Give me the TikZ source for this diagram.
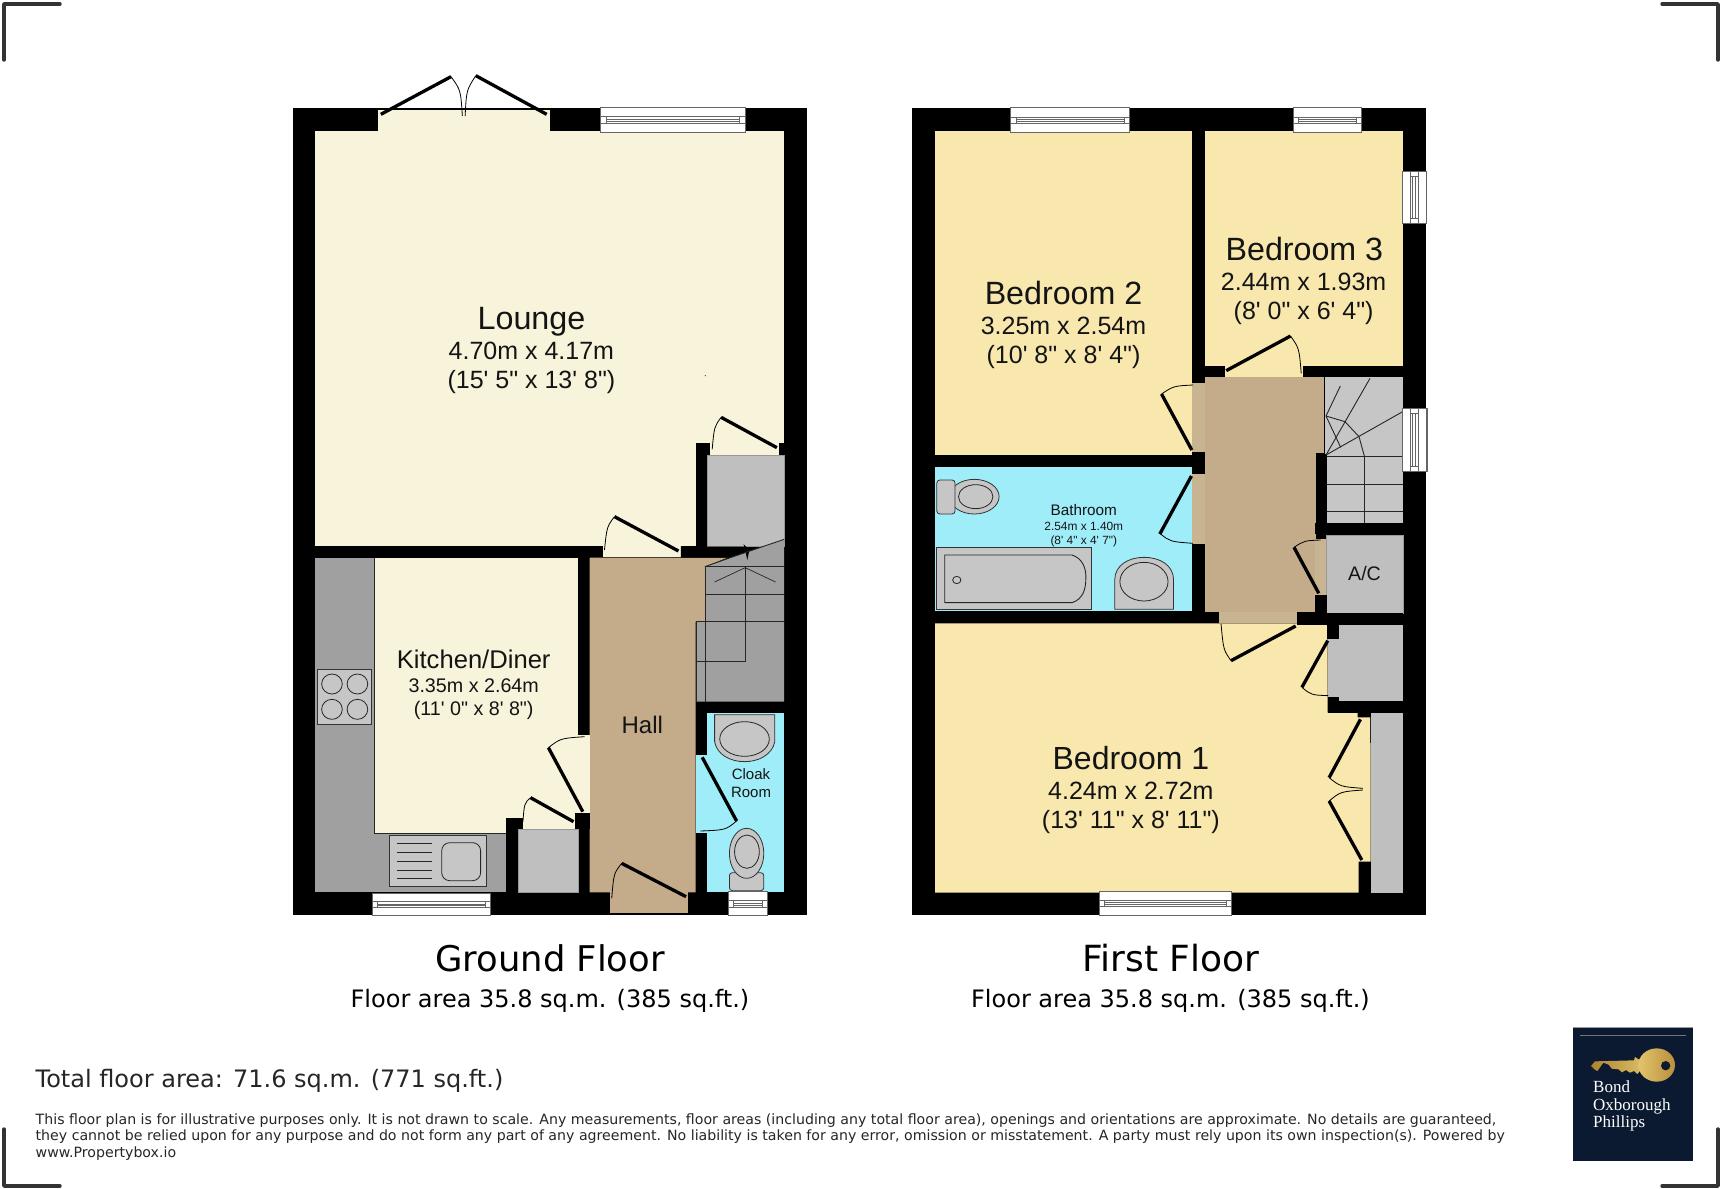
\documentclass[tikz,border=0pt]{standalone}
\usepackage{fontspec}
\newfontfamily\roomfont{Liberation Sans}
\newfontfamily\capfont{DejaVu Sans}
\newfontfamily\logofont{Liberation Serif}
\definecolor{creamfloor}{HTML}{F8F4DC}
\definecolor{bedfloor}{HTML}{F8E8AE}
\definecolor{cyanfloor}{HTML}{9FEDF9}
\definecolor{tanfloor}{HTML}{C4AC8A}
\definecolor{tanlight}{HTML}{C9B491}
\definecolor{greycup}{HTML}{BFBFBF}
\definecolor{greydark}{HTML}{A0A0A0}
\definecolor{greyapp}{HTML}{C6C6C6}
\definecolor{navy}{HTML}{0B1A30}
\definecolor{golddark}{HTML}{AC8332}
\definecolor{goldlight}{HTML}{E3C46C}
\definecolor{goldmid}{HTML}{B88F3C}
\newcommand{\fs}[1]{\fontsize{#1}{#1}\selectfont}
\newcommand{\winH}[4]{%
  \pgfmathsetmacro\wya{#2+.38*(#4-#2)}\pgfmathsetmacro\wyb{#2+.65*(#4-#2)}%
  \pgfmathsetmacro\wyc{#2+.49*(#4-#2)}\pgfmathsetmacro\wyd{#2+.56*(#4-#2)}%
  \pgfmathsetmacro\wxa{#1+15}\pgfmathsetmacro\wxb{#3-15}%
  \draw[winframe] (#1,#2) rectangle (#3,#4);
  \draw[winline] (#1,\wya) -- (#3,\wya) (#1,\wyb) -- (#3,\wyb);
  \draw[winline] (\wxa,\wya) -- (\wxa,\wyb) (\wxb,\wya) -- (\wxb,\wyb) (\wxa,\wyc) -- (\wxb,\wyc) (\wxa,\wyd) -- (\wxb,\wyd);
}
\newcommand{\winV}[4]{%
  \pgfmathsetmacro\wxa{#1+.32*(#3-#1)}\pgfmathsetmacro\wxb{#1+.65*(#3-#1)}%
  \pgfmathsetmacro\wxc{#1+.43*(#3-#1)}\pgfmathsetmacro\wxd{#1+.53*(#3-#1)}%
  \pgfmathsetmacro\wya{#2+15}\pgfmathsetmacro\wyb{#4-15}%
  \draw[winframe] (#1,#2) rectangle (#3,#4);
  \draw[winline] (\wxa,#2) -- (\wxa,#4) (\wxb,#2) -- (\wxb,#4);
  \draw[winline] (\wxa,\wya) -- (\wxb,\wya) (\wxa,\wyb) -- (\wxb,\wyb) (\wxc,\wya) -- (\wxc,\wyb) (\wxd,\wya) -- (\wxd,\wyb);
}
\tikzset{
  gA/.style={x=0.3441pt,y=-0.33333pt,shift={(280pt,-60pt)}},
  gB/.style={x=0.3441pt,y=-0.33333pt,shift={(280pt,-520pt)}},
  fC/.style={x=0.3441pt,y=-0.33333pt,shift={(900pt,-90pt)}},
  fD/.style={x=0.3441pt,y=-0.33333pt,shift={(900pt,-500pt)}},
  zE/.style={x=0.33333pt,y=-0.33333pt,shift={(1240pt,-360pt)}},
  zF/.style={x=0.33333pt,y=-0.33333pt,shift={(1540pt,-1010pt)}},
  leaf/.style={line width=3.3pt,black},
  swing/.style={line width=.8pt,black},
  winframe/.style={fill=white,draw=black!60,line width=.7pt},
  winline/.style={draw=black!60,line width=.6pt},
  stairline/.style={draw=black!85,line width=.9pt},
  applianceedge/.style={fill=greyapp,draw=black!80,line width=.8pt},
  cupb/.style={fill=greycup,draw=black!40,line width=.4pt},
  rt/.style={anchor=base,inner sep=0pt,font=\roomfont\fs{#1},text=black!92},
  ct/.style={anchor=base,inner sep=0pt,font=\capfont\fs{#1},text=black},
  nt/.style={anchor=base west,inner sep=0pt,font=\capfont\fs{#1},text=black!85},
  cornermark/.style={draw=black!80,line width=3.4pt,line cap=round,line join=round},
}
\begin{document}
\begin{tikzpicture}[x=1pt,y=-1pt]
\useasboundingbox (0,0) rectangle (1722,1189);
\fill[white] (0,0) rectangle (1722,1189);
% corners
\draw[cornermark] (4,60) -- (4,4) -- (60,4);
\draw[cornermark] (1662,4) -- (1718,4) -- (1718,60);
\draw[cornermark] (4,1129) -- (4,1186) -- (60,1186);
\draw[cornermark] (1662,1186) -- (1718,1186) -- (1718,1129);
% shells
\fill[black] (292.7,108.3) rectangle (806.8,915.3);
\fill[black] (912,108.3) rectangle (1426,915);

% ---------- GROUND FLOOR, upper part
\begin{scope}[gA]
  \fill[creamfloor] (103,213) rectangle (1465,1458);
  \fill[creamfloor] (285,150) rectangle (784,213);
  \fill[creamfloor] (938,1458) rectangle (1165,1491);
  \fill[black] (1208,1150) rectangle (1241,1470);
  \fill[black] (1208,1150) rectangle (1251,1185);
  \fill[black] (1449,1150) rectangle (1465,1185);
  \filldraw[cupb] (1241,1185) rectangle (1465,1458);
  \winH{932}{142}{1351}{216}
  \draw[leaf] (293,163) -- (497,50);
  \draw[leaf] (775,163) -- (569,47);
  \draw[swing] (497,50) .. controls (525,90) .. (530,168);
  \draw[swing] (569,47) .. controls (542,90) .. (538,168);
  \draw[leaf] (1444,1163) -- (1282,1072);
  \draw[swing] (1282,1072) .. controls (1262,1100) .. (1256,1168);
  \draw[leaf] (1158,1473) -- (972,1370);
  \draw[swing] (972,1370) .. controls (950,1400) .. (943,1470);
  \fill[black!70] (1236,947) circle (2);
\end{scope}

% ---------- GROUND FLOOR, lower part
\begin{scope}[gB]
  \fill[tanfloor] (900,113) -- (1300,113) -- (1235,140) -- (1235,305) -- (1208,305) -- (1208,1117) -- (900,1117) -- cycle;
  \fill[tanfloor] (958,1117) rectangle (1185,1180);
  % stairs
  \fill[greydark] (1235,140) -- (1465,58) -- (1465,545) -- (1210,545) -- (1210,305) -- (1235,305) -- cycle;
  \fill[black] (1165,80) -- (1350,80) -- (1350,99) -- (1300,113) -- (1165,113) -- cycle;
  \fill[black] (1347,72) -- (1364,90) -- (1358,120) -- (1352,90) -- cycle;
  \draw[stairline] (1235,140) -- (1300,116) -- (1465,58);
  \draw[stairline] (1235,140) -- (1465,140) (1235,222) -- (1465,222) (1210,305) -- (1465,305);
  \draw[stairline] (1352,140) -- (1352,425) -- (1210,425);
  \draw[stairline] (1235,140) -- (1235,545) (1210,305) -- (1210,545);
  \draw[stairline,line width=.7pt] (1263,186) -- (1352,143) -- (1440,186);
  \fill[black] (1208,545) rectangle (1480,578);
  % kitchen
  \fill[greydark] (103,113) rectangle (657,1117);
  \fill[creamfloor] (275,113) rectangle (866,940);
  \fill[creamfloor] (866,645) rectangle (901,880);
  \draw[black!85,line width=.7pt] (275,113) -- (275,940) -- (657,940);
  \fill[black] (657,895) rectangle (705,928);
  \fill[black] (657,895) rectangle (691,1117);
  \fill[black] (857,880) rectangle (901,928);
  \filldraw[cupb] (691,928) rectangle (866,1117);
  % hob
  \filldraw[applianceedge] (108,448) rectangle (267,612);
  \foreach \hx/\hy in {151/492,225/492,151/568,225/568}
    \draw[black!85,line width=.8pt] (\hx,\hy) circle [x radius=30,y radius=30];
  % sink
  \filldraw[applianceedge] (319,947) rectangle (600,1098);
  \foreach \sy in {970,997,1023,1050,1076}
    \draw[black!85,line width=.7pt] (340,\sy) -- (442,\sy);
  \draw[black!85,line width=.8pt,rounded corners=8pt] (470,968) rectangle (583,1082);
  % doors
  \draw[leaf] (880,875) -- (780,683);
  \draw[swing] (780,683) .. controls (815,655) .. (885,650);
  \draw[leaf] (853,905) -- (728,833);
  \draw[swing] (728,833) .. controls (710,850) .. (706,905);
  \draw[leaf] (993,1030) -- (1180,1130);
  \draw[swing] (993,1030) .. controls (970,1060) .. (964,1135);
  % cloak
  \fill[cyanfloor] (1241,578) rectangle (1465,1117);
  \fill[cyanfloor] (1208,705) rectangle (1241,938);
  \filldraw[applianceedge] (1263,584) -- (1438,584) -- (1438,665) .. controls (1430,705) and (1390,725) .. (1350,725) .. controls (1310,725) and (1270,705) .. (1263,665) -- cycle;
  \draw[black!85,line width=.8pt] (1350,657) circle [x radius=72,y radius=52];
  \filldraw[applianceedge,rounded corners=3pt] (1306,1058) rectangle (1406,1112);
  \filldraw[applianceedge] (1356,1000) circle [x radius=50,y radius=75];
  \draw[black!85,line width=.8pt] (1357,995) circle [x radius=36,y radius=50];
  \draw[leaf] (1227,712) -- (1327,903);
  \draw[swing] (1327,903) .. controls (1295,930) .. (1222,933);
  % windows
  \winH{267}{1120}{611}{1186}
  \winH{1302}{1115}{1416}{1186}
\end{scope}

% ---------- FIRST FLOOR, upper part
\begin{scope}[fC]
  \fill[bedfloor] (102,123) rectangle (850,1094);
  \fill[bedfloor] (885,123) rectangle (1463,828);
  \fill[bedfloor] (945,828) rectangle (1170,862);
  \fill[tanfloor] (885,862) rectangle (1233,1090);
  \fill[tanfloor] (885,1090) rectangle (1208,1565);
  \fill[tanlight] (850,880) rectangle (885,1085);
  \fill[tanlight] (850,1152) rectangle (885,1362);
  \fill[cyanfloor] (102,1130) rectangle (850,1563);
  \winH{322}{52}{667}{127}
  \winH{1143}{52}{1342}{127}
  \winV{1460}{243}{1530}{400}
  \draw[leaf] (948,842) -- (1135,738);
  \draw[swing] (1135,738) .. controls (1160,775) .. (1166,850);
  \draw[leaf] (848,1080) -- (760,912);
  \draw[swing] (760,912) .. controls (795,888) .. (852,885);
  % bathroom toilet
  \filldraw[applianceedge] (216,1220) circle [x radius=72,y radius=52];
  \filldraw[applianceedge,rounded corners=3pt] (107,1170) rectangle (160,1272);
  \draw[black!85,line width=.8pt] (220,1220) circle [x radius=50,y radius=36];
  \draw[leaf] (847,1158) -- (755,1332);
\end{scope}

% ---------- FIRST FLOOR, stairs
\begin{scope}[zE]
  \fill[greyapp] (256,52) rectangle (490,490);
  \fill[black] (228,282) rectangle (260,535);
  \fill[black] (225,490) rectangle (492,523);
  \draw[stairline] (258,285) -- (390,55);
  \draw[stairline] (258,285) -- (488,155);
  \draw[stairline] (258,168) -- (301,78);
  \draw[stairline] (258,168) -- (302,262);
  \draw[stairline] (258,168) -- (315,185) -- (357,230) -- (373,288);
  \draw[stairline] (260,288) -- (490,288) (260,372) -- (490,372) (260,455) -- (490,455);
  \draw[stairline] (374,288) -- (374,490);
  \winV{488}{145}{562}{333}
\end{scope}

% ---------- FIRST FLOOR, lower part
\begin{scope}[fD]
  \fill[tanlight] (928,335) rectangle (1155,370);
  \fill[tanlight] (1205,118) rectangle (1238,285);
  \fill[black] (850,133) rectangle (885,335);
  % bath
  \filldraw[applianceedge] (107,142) rectangle (556,328);
  \draw[black!85,line width=.9pt] (130,165) -- (500,165) .. controls (530,175) and (542,205) .. (540,237) .. controls (540,270) and (530,298) .. (500,308) -- (130,308) -- cycle;
  \draw[black!85,line width=.8pt] (165,240) circle [x radius=12,y radius=11];
  % basin
  \filldraw[applianceedge] (624,328) -- (624,240) .. controls (624,195) and (665,172) .. (709,172) .. controls (755,172) and (795,195) .. (795,240) -- (795,328) -- cycle;
  \draw[black!85,line width=.8pt] (709,245) circle [x radius=70,y radius=58];
  \draw[swing] (755,100) .. controls (785,125) .. (852,130);
  % A/C
  \filldraw[cupb] (1238,105) rectangle (1463,340);
  \fill[black] (1205,285) rectangle (1240,345);
  \draw[leaf] (1217,280) -- (1145,142);
  \draw[swing] (1145,142) .. controls (1175,122) .. (1222,120);
  % bedroom 1
  \fill[bedfloor] (102,370) -- (1243,370) -- (1243,638) -- (1330,638) -- (1330,652) -- (1368,652) -- (1368,1085) -- (1333,1085) -- (1333,1178) -- (102,1178) -- cycle;
  \fill[black] (1243,603) rectangle (1463,638);
  % cupboards
  \fill[greycup] (1243,375) rectangle (1463,603);
  \fill[black] (1240,375) rectangle (1275,417);
  \fill[black] (1243,592) rectangle (1275,603);
  \fill[black] (1155,340) rectangle (1463,375);
  \fill[greycup] (1368,638) rectangle (1463,1178);
  \draw[black!85,line width=.7pt] (1368,650) -- (1368,730);
  \draw[leaf] (1150,378) -- (962,482);
  \draw[swing] (962,482) .. controls (940,450) .. (933,372);
  \draw[leaf] (1243,422) -- (1168,562);
  \draw[swing] (1168,562) .. controls (1195,585) .. (1245,587);
  \draw[leaf] (1338,658) -- (1247,833);
  \draw[swing] (1247,833) .. controls (1280,860) .. (1345,865);
  \draw[leaf] (1342,1080) -- (1247,903);
  \draw[swing] (1247,903) .. controls (1280,875) .. (1345,870);
  \winH{580}{1173}{963}{1245}
\end{scope}
\begin{scope}[fC]
  \winV{1460}{955}{1530}{1143}
\end{scope}

% ---------- room labels
\node[rt=32.3] (loungeA) at (531.5,329.3) {Lounge};
\node[rt=25] (loungeB) at (531.4,359) {4.70m x 4.17m};
\node[rt=25] (loungeC) at (531.4,388.3) {(15' 5" x 13' 8")};
\node[rt=25.6] (kitA) at (473.7,668.2) {Kitchen/Diner};
\node[rt=19.7] (kitB) at (473.7,692) {3.35m x 2.64m};
\node[rt=19.7] (kitC) at (473.7,715) {(11' 0" x 8' 8")};
\node[rt=24] (hallA) at (642.3,733) {Hall};
\node[rt=15] (cloakA) at (751,779.3) {Cloak};
\node[rt=15] (cloakB) at (751,797.3) {Room};
\node[rt=32.2] (bedtwoA) at (1063.5,304.3) {Bedroom 2};
\node[rt=25] (bedtwoB) at (1063.5,334.6) {3.25m x 2.54m};
\node[rt=25] (bedtwoC) at (1063.5,363.3) {(10' 8" x 8' 4")};
\node[rt=32.2] (bedthrA) at (1304.4,260.3) {Bedroom 3};
\node[rt=25] (bedthrB) at (1303.6,290.4) {2.44m x 1.93m};
\node[rt=25] (bedthrC) at (1303.6,319.3) {(8' 0" x 6' 4")};
\node[rt=15.3] (bathA) at (1083.8,515) {Bathroom};
\node[rt=11.9] (bathB) at (1083.8,530) {2.54m x 1.40m};
\node[rt=11.9] (bathC) at (1083.8,544.3) {(8' 4" x 4' 7")};
\node[rt=32] (bedoneA) at (1130.9,769.3) {Bedroom 1};
\node[rt=25] (bedoneB) at (1130.9,799) {4.24m x 2.72m};
\node[rt=25] (bedoneC) at (1130.9,828.6) {(13' 11" x 8' 11")};
\node[rt=19.6] (acA) at (1364.5,580.7) {A/C};

% ---------- captions
\node[ct=35.4] (gfA) at (550,971.7) {Ground Floor};
\node[ct=24] (gfB) at (550,1007.5) {Floor area 35.8 sq.m. (385 sq.ft.)};
\node[ct=36] (ffA) at (1171,971.7) {First Floor};
\node[ct=24] (ffB) at (1170.5,1007.5) {Floor area 35.8 sq.m. (385 sq.ft.)};
\node[nt=24] (totalA) at (35.5,1087) {Total floor area: 71.6 sq.m. (771 sq.ft.)};
\node[nt=14.15] (noteA) at (35.5,1124) {This floor plan is for illustrative purposes only. It is not drawn to scale. Any measurements, floor areas (including any total floor area), openings and orientations are approximate. No details are guaranteed,};
\node[nt=14.15] (noteB) at (35.5,1140.7) {they cannot be relied upon for any purpose and do not form any part of any agreement. No liability is taken for any error, omission or misstatement. A party must rely upon its own inspection(s). Powered by};
\node[nt=14.15] (noteC) at (35.5,1157.3) {www.Propertybox.io};

% ---------- logo
\fill[navy] (1573,1027.3) rectangle (1693,1160.7);
\draw[black!40,line width=.6pt] (1573,1027.3) -- (1693,1027.3);
\draw[black!55,line width=.6pt] (1580,1035) -- (1686,1035);
\begin{scope}[zF]
  \path[left color=golddark,right color=goldlight] (153,168) -- (165,154) -- (282,151) -- (285,141) -- (296,148) -- (312,150) -- (330,170) -- (312,180) -- (300,182) -- (292,192) -- (282,183) -- (270,188) -- (258,180) -- (246,187) -- (236,178) -- (215,176) -- (206,164) -- (190,158) -- (172,183) -- (163,178) -- cycle;
  \path[left color=goldlight,right color=goldmid] (350,165) circle [x radius=55,y radius=50];
  \fill[navy] (377,167) circle [x radius=14,y radius=14];
\end{scope}
\node[anchor=base west,inner sep=0pt,font=\logofont\fs{17},text=white] (logoA) at (1593,1092.7) {Bond};
\node[anchor=base west,inner sep=0pt,font=\logofont\fs{17},text=white] (logoB) at (1593,1110.7) {Oxborough};
\node[anchor=base west,inner sep=0pt,font=\logofont\fs{17},text=white] (logoC) at (1593,1127.7) {Phillips};
\end{tikzpicture}
\end{document}
